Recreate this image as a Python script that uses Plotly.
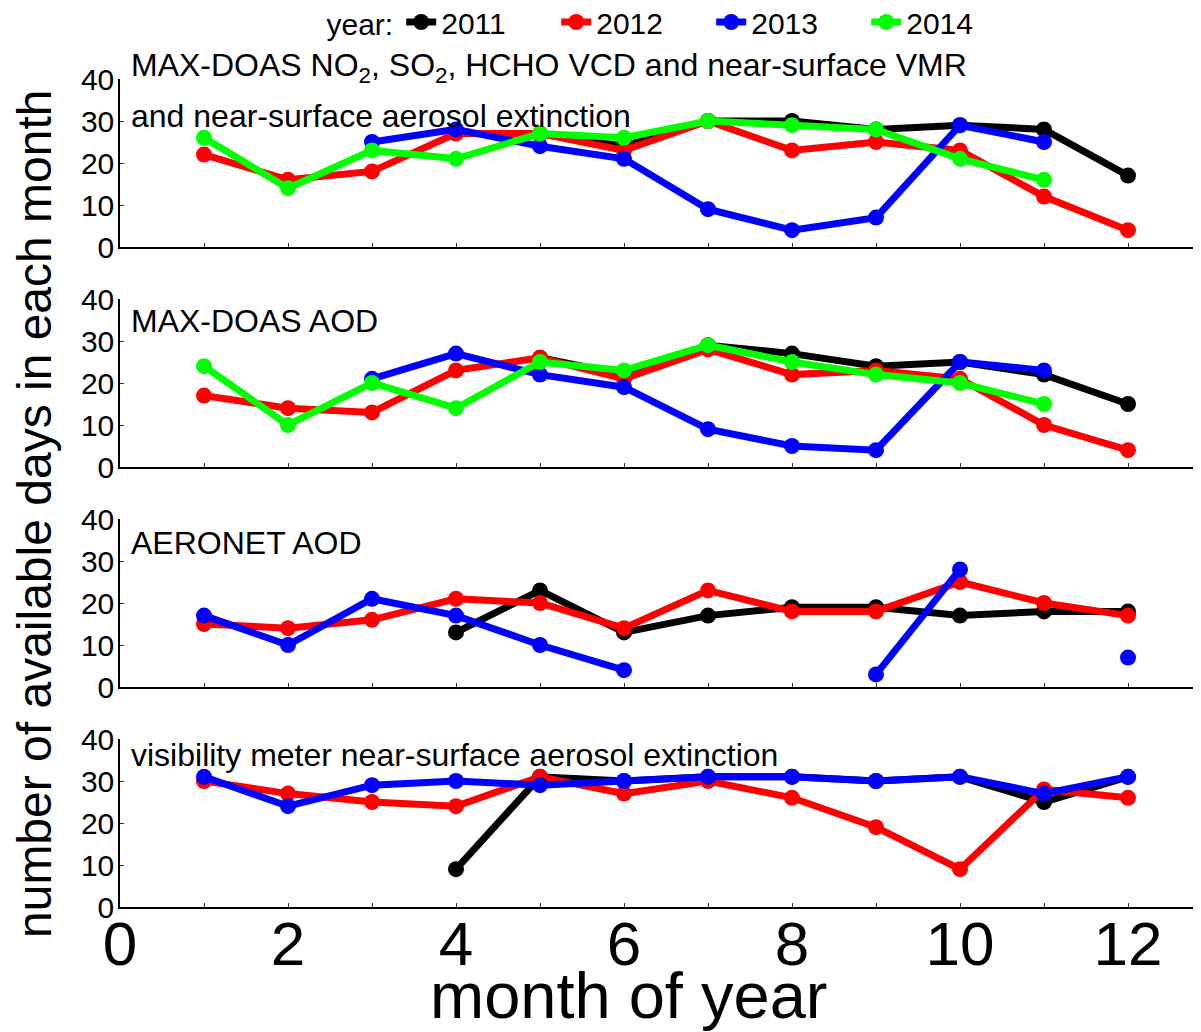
import plotly.graph_objects as go
from plotly.subplots import make_subplots

months = list(range(1, 13))
years = ["2011", "2012", "2013", "2014"]
colors = {"2011": "#000000", "2012": "#ff0000", "2013": "#0000ff", "2014": "#00ff00"}

# MAX-DOAS NO2, SO2, HCHO VCD and near-surface VMR
maxdoas_trace_2011 = [None, None, None, None, 27, 24, 30, 30, 28, 29, 28, 17]
maxdoas_trace_2012 = [22, 16, 18, 27, 27, 23, 30, 23, 25, 23, 12, 4]
maxdoas_trace_2013 = [None, None, 25, 28, 24, 21, 9, 4, 7, 29, 25, None]
maxdoas_trace_2014 = [26, 14, 23, 21, 27, 26, 30, 29, 28, 21, 16, None]

# MAX-DOAS AOD
maxdoas_aod_2011 = [None, None, None, None, 26, 22, 29, 27, 24, 25, 22, 15]
maxdoas_aod_2012 = [17, 14, 13, 23, 26, 21, 28, 22, 23, 21, 10, 4]
maxdoas_aod_2013 = [None, None, 21, 27, 22, 19, 9, 5, 4, 25, 23, None]
maxdoas_aod_2014 = [24, 10, 20, 14, 25, 23, 29, 25, 22, 20, 15, None]

# AERONET AOD
aeronet_2011 = [None, None, None, 13, 23, 13, 17, 19, 19, 17, 18, 18]
aeronet_2012 = [15, 14, 16, 21, 20, 14, 23, 18, 18, 25, 20, 17]
aeronet_2013 = [17, 10, 21, 17, 10, 4, None, None, 3, 28, None, 7]

# visibility meter
visib_2011 = [None, None, None, 9, 31, 30, 31, 31, 30, 31, 25, 31]
visib_2012 = [30, 27, 25, 24, 31, 27, 30, 26, 19, 9, 28, 26]
visib_2013 = [31, 24, 29, 30, 29, 30, 31, 31, 30, 31, 27, 31]

panels = [
    {"2011": maxdoas_trace_2011, "2012": maxdoas_trace_2012, "2013": maxdoas_trace_2013, "2014": maxdoas_trace_2014},
    {"2011": maxdoas_aod_2011, "2012": maxdoas_aod_2012, "2013": maxdoas_aod_2013, "2014": maxdoas_aod_2014},
    {"2011": aeronet_2011, "2012": aeronet_2012, "2013": aeronet_2013},
    {"2011": visib_2011, "2012": visib_2012, "2013": visib_2013},
]

fig = make_subplots(rows=4, cols=1)

for i, panel in enumerate(panels):
    for yr in years:
        if yr not in panel:
            continue
        fig.add_trace(go.Scatter(
            x=months, y=panel[yr], mode="lines+markers", name=yr,
            line=dict(color=colors[yr], width=7),
            marker=dict(color=colors[yr], size=16),
            showlegend=(i == 0), legendgroup=yr, cliponaxis=False,
        ), row=i + 1, col=1)

# page has an 8px body margin, so the figure is drawn shifted by 8px
# plot area: 112..1192 px wide, 71..899 px tall (828 px)
H = 828.0
W = 1080.0
domains = [(660 / H, 1.0), (440 / H, 608 / H), (220 / H, 388 / H), (0.0, 168 / H)]
font = "Liberation Sans, Arial, sans-serif"

for i in range(4):
    xa = "xaxis" if i == 0 else "xaxis%d" % (i + 1)
    ya = "yaxis" if i == 0 else "yaxis%d" % (i + 1)
    fig.layout[xa].update(
        range=[0, W / 84.0], domain=[0, 1],
        tick0=0, dtick=2,
        minor=dict(dtick=1, ticks="inside", ticklen=4, tickcolor="#333"),
        showticklabels=(i == 3), ticks="inside", ticklen=4, tickcolor="#333",
        showline=True, linecolor="#000", linewidth=1.5, showgrid=False, zeroline=False,
        tickfont=dict(size=62, family=font, color="#000"),
        ticklabelstandoff=-18,
    )
    fig.layout[ya].update(
        range=[0, 40], domain=list(domains[i]),
        tickvals=[0, 10, 20, 30, 40], ticks="inside", ticklen=4, tickcolor="#333",
        showline=True, linecolor="#000", linewidth=1.5, showgrid=False, zeroline=False,
        tickfont=dict(size=30, family=font, color="#000"),
        ticklabelstandoff=-2,
    )

labels = [
    ("MAX-DOAS NO<sub>2</sub>, SO<sub>2</sub>, HCHO VCD and near-surface VMR", 1.071, 1),
    ("and near-surface aerosol extinction", 0.78, 1),
    ("MAX-DOAS AOD", 0.869, 2),
    ("AERONET AOD", 0.857, 3),
    ("visibility meter near-surface aerosol extinction", 0.905, 4),
]
for txt, yv, k in labels:
    suffix = "" if k == 1 else str(k)
    fig.add_annotation(
        text=txt, x=0.008, y=yv, xref="x%s domain" % suffix, yref="y%s domain" % suffix,
        xanchor="left", yanchor="middle", showarrow=False,
        font=dict(size=32, family=font, color="#000"),
    )

fig.add_annotation(
    text="number of available days in each month", textangle=-90,
    x=(26 - 112) / W, y=1 - (506 - 71) / H, xref="paper", yref="paper",
    xanchor="center", yanchor="middle", showarrow=False,
    font=dict(size=48, family=font, color="#000"),
)
fig.add_annotation(
    text="month of year",
    x=(620 - 112) / W, y=1 - (987 - 71) / H, xref="paper", yref="paper",
    xanchor="center", yanchor="middle", showarrow=False,
    font=dict(size=65, family=font, color="#000"),
)

fig.update_layout(
    width=1201, height=1032,
    margin=dict(l=112, r=9, t=71, b=133, autoexpand=False),
    paper_bgcolor="white", plot_bgcolor="white",
    legend=dict(
        orientation="h", x=(665 - 112) / W, xanchor="center",
        y=1 + (71 - 14) / H, yanchor="middle",
        title=dict(text="year:", font=dict(size=30, family=font, color="#000")),
        font=dict(size=30, family=font, color="#000"),
        entrywidth=110, tracegroupgap=0,
    ),
)

fig.write_html("out.html")
